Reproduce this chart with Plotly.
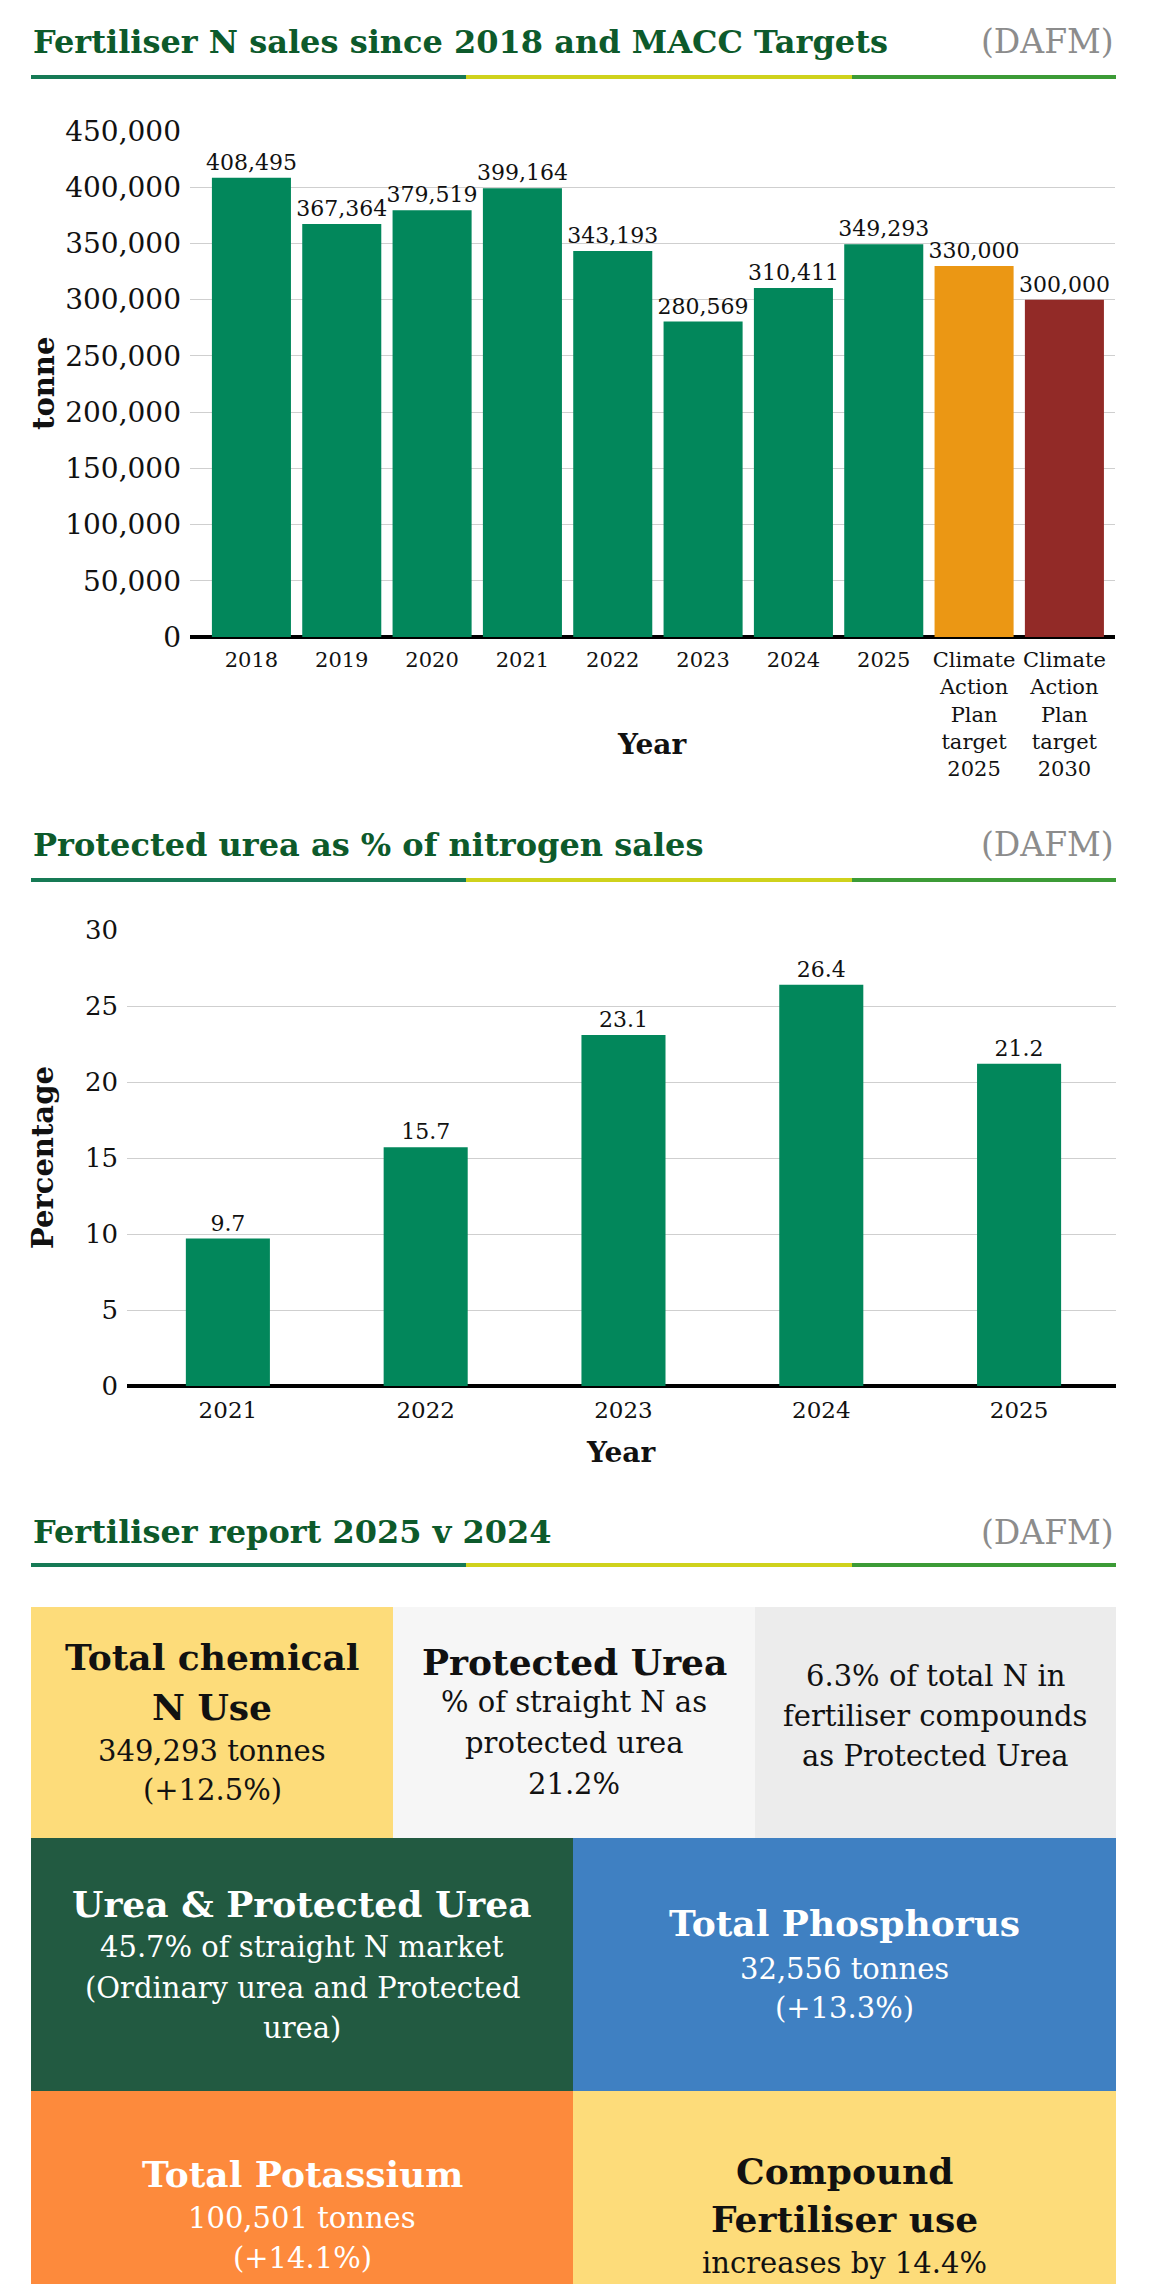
import plotly.graph_objects as go

# ---------------- data ----------------
categories1 = ["2018", "2019", "2020", "2021", "2022", "2023", "2024", "2025",
               "Climate<br>Action<br>Plan<br>target<br>2025",
               "Climate<br>Action<br>Plan<br>target<br>2030"]
sales_tonnes = [408495, 367364, 379519, 399164, 343193, 280569, 310411, 349293, 330000, 300000]
y1_ticks = [0, 50000, 100000, 150000, 200000, 250000, 300000, 350000, 400000, 450000]

categories2 = ["2021", "2022", "2023", "2024", "2025"]
protected_pct = [9.7, 15.7, 23.1, 26.4, 21.2]
y2_ticks = [0, 5, 10, 15, 20, 25, 30]

section_titles = ["Fertiliser N sales since 2018 and MACC Targets",
                  "Protected urea as % of nitrogen sales",
                  "Fertiliser report 2025 v 2024"]
source_label = "(DAFM)"

box1_lines = ["<b>Total chemical</b>", "<b>N Use</b>", "349,293 tonnes", "(+12.5%)"]
box2_lines = ["<b>Protected Urea</b>", "% of straight N as", "protected urea", "21.2%"]
box3_lines = ["6.3% of total N in", "fertiliser compounds", "as Protected Urea"]
box4_lines = ["<b>Urea & Protected Urea</b>", "45.7% of straight N market",
              "(Ordinary urea and Protected", "urea)"]
box5_lines = ["<b>Total Phosphorus</b>", "32,556 tonnes", "(+13.3%)"]
box6_lines = ["<b>Total Potassium</b>", "100,501 tonnes", "(+14.1%)"]
box7_lines = ["<b>Compound</b>", "<b>Fertiliser use</b>", "increases by 14.4%"]

# ---------------- styling ----------------
W, H = 1169, 2284
FONT = "DejaVu Serif"
GREEN_BAR = "#02875b"
TITLE_GREEN = "#0d5a2b"
bar_colors1 = [GREEN_BAR] * 8 + ["#eb9714", "#922a27"]


def px(x):
    return x / W


def py(y):
    return 1 - y / H


fig = go.Figure()

fig.add_trace(go.Bar(
    x=categories1, y=sales_tonnes, marker=dict(color=bar_colors1, line=dict(width=0)),
    width=0.875, texttemplate="%{y:,}", textposition="outside", constraintext="none",
    cliponaxis=False, textfont=dict(family=FONT, size=22, color="#111"),
    xaxis="x", yaxis="y", showlegend=False, hoverinfo="x+y"))

fig.add_trace(go.Bar(
    x=categories2, y=protected_pct, marker=dict(color=GREEN_BAR, line=dict(width=0)),
    width=0.425, texttemplate="%{y:.1f}", textposition="outside", constraintext="none",
    cliponaxis=False, textfont=dict(family=FONT, size=22, color="#111"),
    xaxis="x2", yaxis="y2", showlegend=False, hoverinfo="x+y"))

axis_common = dict(showline=False, ticks="", fixedrange=True, automargin=False)

fig.update_layout(
    width=W, height=H, autosize=False,
    margin=dict(l=0, r=0, t=0, b=0, pad=0, autoexpand=False),
    paper_bgcolor="white", plot_bgcolor="white",
    showlegend=False,
    xaxis=dict(domain=[px(190), px(1115)], anchor="y", type="category",
               range=[-0.68, 9.56], showgrid=False, zeroline=False,
               tickfont=dict(family=FONT, size=21, color="#111"),
               ticklabelstandoff=8, **axis_common),
    yaxis=dict(domain=[py(637), py(131)], anchor="x", range=[0, 450000],
               tickvals=y1_ticks, tickformat=",", showgrid=True, gridcolor="#cfcfcf",
               gridwidth=1, zeroline=True, zerolinecolor="black", zerolinewidth=4,
               tickfont=dict(family=FONT, size=28, color="#111"),
               ticklabelstandoff=8, **axis_common),
    xaxis2=dict(domain=[px(127), px(1116)], anchor="y2", type="category",
                range=[-0.51, 4.49], showgrid=False, zeroline=False,
                tickfont=dict(family=FONT, size=23, color="#111"),
                ticklabelstandoff=8, **axis_common),
    yaxis2=dict(domain=[py(1386), py(930)], anchor="x2", range=[0, 30],
                tickvals=y2_ticks, showgrid=True, gridcolor="#cfcfcf",
                gridwidth=1, zeroline=True, zerolinecolor="black", zerolinewidth=4,
                tickfont=dict(family=FONT, size=26, color="#111"),
                ticklabelstandoff=8, **axis_common),
)

shapes = []
annotations = []


def add_text(text, x, y, size, color="#111", xanchor="center", angle=0):
    annotations.append(dict(
        text=text, x=px(x), y=py(y), xref="paper", yref="paper",
        xanchor=xanchor, yanchor="middle", showarrow=False, textangle=angle,
        font=dict(family=FONT, size=size, color=color)))


def add_rect(x0, y0, x1, y1, color):
    shapes.append(dict(type="rect", xref="paper", yref="paper",
                       x0=px(x0), x1=px(x1), y0=py(y1), y1=py(y0),
                       fillcolor=color, line=dict(width=0), layer="below"))


# section headers with tri-colour rule
for title, ty, ly in zip(section_titles, [42, 845, 1532], [75, 878, 1563]):
    add_text("<b>" + title + "</b>", 31, ty, 32, TITLE_GREEN, xanchor="left")
    add_text(source_label, 1116, ty, 33, "#8c8c8c", xanchor="right")
    add_rect(31, ly, 466, ly + 4, "#167a55")
    add_rect(466, ly, 852, ly + 4, "#cfd21c")
    add_rect(852, ly, 1116, ly + 4, "#3c9b36")

# axis titles
add_text("<b>Year</b>", 652, 744, 28)
add_text("<b>tonne</b>", 44, 384, 29, angle=-90)
add_text("<b>Year</b>", 621, 1452, 28)
add_text("<b>Percentage</b>", 43, 1158, 29, angle=-90)

# info boxes
add_rect(31, 1607, 393, 1838, "#fddc7a")
add_rect(393, 1607, 755, 1838, "#f6f6f6")
add_rect(755, 1607, 1116, 1838, "#ececec")
add_rect(31, 1838, 573, 2091, "#225a41")
add_rect(573, 1838, 1116, 2091, "#3f80c2")
add_rect(31, 2091, 573, 2284, "#fd8a3c")
add_rect(573, 2091, 1116, 2284, "#fddc7a")


def box_lines(lines, cx, ys, color):
    for t, yy in zip(lines, ys):
        size = 36 if t.startswith("<b>") else 29
        add_text(t, cx, yy, size, color)


box_lines(box1_lines, 212, [1657, 1707, 1751, 1790], "#111")
box_lines(box2_lines, 574, [1662, 1702, 1743, 1784], "#111")
box_lines(box3_lines, 935, [1676, 1716, 1756], "#111")
box_lines(box4_lines, 302, [1904, 1947, 1988, 2028], "white")
box_lines(box5_lines, 844, [1923, 1969, 2008], "white")
box_lines(box6_lines, 302, [2174, 2218, 2258], "white")
box_lines(box7_lines, 844, [2171, 2219, 2263], "#111")

fig.update_layout(shapes=shapes, annotations=annotations)

fig.write_html("out.html")
